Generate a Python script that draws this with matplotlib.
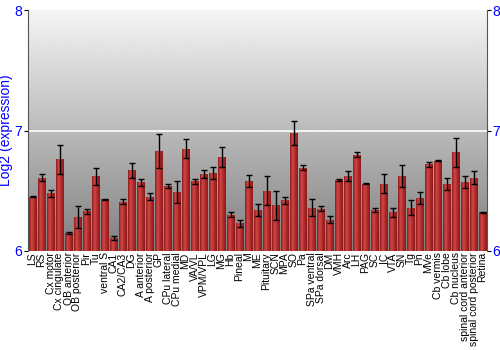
import matplotlib
matplotlib.use("Agg")
import matplotlib.pyplot as plt
import numpy as np
from matplotlib.colors import LinearSegmentedColormap

plt.rcParams["font.family"] = ["Liberation Sans", "DejaVu Sans"]

# regions along the x axis
regions = ["LS", "RS", "Cx motor", "Cx cingulate", "OB anterior", "OB posterior", "Pir", "Tu",
           "ventral S", "CA1", "CA2/CA3", "DG", "A anterior", "A posterior", "GP", "CPu lateral",
           "CPu medial", "MD", "VA/VL", "VPM/VPL", "LG", "MG", "Hb", "Pineal", "M", "ME",
           "Pituitary", "SCN", "MPA", "SO", "Pa", "SPa ventral", "SPa dorsal", "DM", "VMH", "Arc",
           "LH", "PAG", "SC", "IC", "VTA", "SN", "Tg", "Pn", "MVe", "Cb vermis", "Cb lobe",
           "Cb nucleus", "spinal cord anterior", "spinal cord posterior", "Retina"]

# log2 expression (mean) and error
expr = [6.45, 6.61, 6.48, 6.76, 6.15, 6.28, 6.33, 6.62,
        6.43, 6.11, 6.41, 6.67, 6.57, 6.45, 6.83, 6.54,
        6.49, 6.85, 6.58, 6.64, 6.65, 6.78, 6.30, 6.23, 6.58, 6.34,
        6.50, 6.38, 6.42, 6.98, 6.69, 6.36, 6.35, 6.26, 6.59, 6.62,
        6.80, 6.56, 6.34, 6.56, 6.32, 6.62, 6.36, 6.44, 6.72, 6.75, 6.56,
        6.82, 6.57, 6.61, 6.32]
err = [0.005, 0.03, 0.03, 0.12, 0.01, 0.09, 0.02, 0.07,
       0.005, 0.015, 0.02, 0.06, 0.03, 0.03, 0.14, 0.02,
       0.09, 0.08, 0.02, 0.03, 0.05, 0.08, 0.02, 0.03, 0.05, 0.05,
       0.12, 0.12, 0.03, 0.10, 0.02, 0.07, 0.02, 0.03, 0.005, 0.04,
       0.02, 0.005, 0.02, 0.08, 0.04, 0.09, 0.06, 0.05, 0.02, 0.005, 0.05,
       0.12, 0.05, 0.05, 0.005]

ymin, ymax = 6, 8

fig = plt.figure(figsize=(5, 3.5), dpi=100)
ax = fig.add_axes([0.056, 0.283, 0.918, 0.688])
x = np.arange(len(regions))
ax.set_xlim(-0.5, len(regions) - 0.5)
ax.set_ylim(ymin, ymax)

# gray vertical gradient background
bg = np.linspace(0.5, 0.96, 256).reshape(-1, 1)
ax.imshow(bg, cmap="gray", vmin=0, vmax=1, origin="lower", aspect="auto",
          extent=[-0.5, len(regions) - 0.5, ymin, ymax], zorder=0)
ax.axhline(7, color="white", lw=1.2, zorder=1)

# bars with a horizontal shading
bar_cmap = LinearSegmentedColormap.from_list("barred", ["#8e1c1c", "#d04848", "#b02a2a", "#8a1a1a"])
bars = ax.bar(x, np.array(expr) - ymin, bottom=ymin, width=0.85, color="#b22a2a",
              edgecolor="none", zorder=2)
grad = np.linspace(0, 1, 64).reshape(1, -1)
for b in bars:
    x0, y0 = b.get_x(), b.get_y()
    im = ax.imshow(grad, cmap=bar_cmap, aspect="auto", zorder=2.5,
                   extent=[x0, x0 + b.get_width(), y0, y0 + b.get_height()])
    im.set_clip_path(b)

ax.errorbar(x, expr, yerr=err, fmt="none", ecolor="black", elinewidth=1,
            capsize=2.5, capthick=1, zorder=3)

ax.set_xticks(x)
ax.set_xticklabels(regions, rotation=90, fontsize=7.5)
ax.tick_params(axis="x", length=0, pad=1)
ax.set_yticks([6, 7, 8])
ax.tick_params(axis="y", colors="black", labelcolor="blue", labelsize=10, length=3,
               left=True, right=True, labelleft=True, labelright=True, pad=1)
ax.set_ylabel("Log2 (expression)", color="blue", fontsize=10, labelpad=1)
for s in ["top", "bottom"]:
    ax.spines[s].set_visible(False)
for s in ["left", "right"]:
    ax.spines[s].set_color("#555555")

fig.savefig("out.png", dpi=100)
